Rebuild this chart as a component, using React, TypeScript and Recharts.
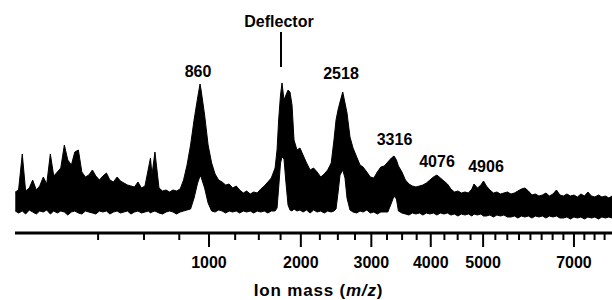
import React from 'react';
import {
  ComposedChart,
  Area,
  XAxis,
  YAxis,
  ReferenceDot,
  ReferenceLine,
  Label,
} from 'recharts';

// ion mass (m/z) of each sample along the trace
const masses = [
  16, 20, 25, 30, 36, 42, 49, 56, 64, 72, 81, 90, 100, 110, 121, 132, 144, 156, 169, 182,
  196, 210, 225, 240, 256, 272, 289, 306, 324, 343, 361, 380, 400, 420, 441, 462, 484, 506, 529, 542,
  552, 572, 600, 625, 650, 676, 702, 729, 757, 784, 812, 841, 870, 900, 921, 930, 961, 992, 1024, 1056,
  1089, 1122, 1156, 1190, 1225, 1261, 1296, 1333, 1369, 1406, 1444, 1482, 1522, 1561, 1601, 1641, 1685, 1708, 1727, 1749,
  1767, 1791, 1815, 1840, 1864, 1889, 1914, 1951, 1989, 2028, 2074, 2120, 2166, 2213, 2262, 2309, 2357, 2406, 2445, 2474,
  2502, 2531, 2570, 2603, 2632, 2676, 2721, 2776, 2826, 2872, 2930, 2984, 3039, 3094, 3150, 3206, 3263, 3322, 3365, 3405,
  3438, 3497, 3556, 3616, 3676, 3737, 3798, 3860, 3922, 3985, 4048, 4112, 4176, 4241, 4306, 4372, 4438, 4505, 4572, 4640,
  4708, 4777, 4818, 4886, 4956, 5008, 5067, 5138, 5210, 5282, 5355, 5428, 5502, 5577, 5651, 5727, 5802, 5879, 5955, 6033,
  6110, 6189, 6267, 6347, 6426, 6507, 6588, 6669, 6751, 6833, 6916, 6999, 7083, 7167, 7252, 7337, 7423, 7509, 7596, 7683,
  7770, 7859, 7937,
];

// upper edge of the noisy signal band (arbitrary intensity)
const upper = [
  41, 43, 79, 42, 45, 53, 43, 47, 56, 49, 79, 57, 61, 65, 88, 73, 68, 81, 83, 61,
  56, 58, 63, 57, 53, 57, 60, 53, 51, 56, 52, 50, 48, 47, 46, 51, 45, 47, 65, 75,
  58, 81, 45, 42, 43, 41, 43, 42, 44, 53, 68, 88, 113, 135, 149, 143, 118, 88, 70, 59,
  53, 51, 48, 49, 45, 47, 43, 40, 42, 39, 41, 40, 44, 47, 51, 55, 65, 83, 113, 138,
  150, 133, 138, 143, 141, 128, 93, 83, 85, 78, 70, 63, 65, 61, 56, 59, 63, 70, 93, 113,
  123, 131, 141, 130, 120, 96, 85, 76, 68, 66, 61, 56, 55, 61, 66, 67, 71, 75, 77, 73,
  67, 61, 53, 49, 47, 46, 47, 48, 50, 53, 56, 58, 55, 52, 49, 44, 41, 42, 40, 41,
  40, 44, 49, 45, 48, 52, 47, 43, 40, 41, 39, 40, 41, 39, 40, 42, 44, 45, 42, 38,
  39, 37, 38, 40, 37, 39, 43, 38, 37, 39, 37, 38, 36, 39, 37, 41, 37, 36, 38, 36,
  37, 35, 37,
];

// lower edge of the noisy signal band
const lower = [
  22, 20, 22, 19, 23, 21, 19, 22, 21, 23, 19, 22, 20, 22, 21, 18, 21, 22, 20, 19,
  22, 21, 20, 19, 22, 21, 22, 19, 21, 22, 20, 21, 22, 19, 21, 22, 20, 21, 22, 20,
  21, 22, 20, 19, 21, 22, 21, 19, 21, 22, 23, 24, 35, 50, 57, 56, 45, 30, 22, 21,
  23, 22, 20, 22, 21, 22, 20, 22, 21, 22, 20, 22, 21, 22, 20, 22, 22, 25, 45, 70,
  76, 74, 50, 28, 23, 22, 24, 22, 23, 21, 23, 20, 23, 21, 22, 20, 22, 21, 22, 24,
  40, 58, 63, 55, 35, 23, 21, 20, 22, 21, 23, 20, 21, 19, 21, 21, 21, 30, 37, 34,
  22, 20, 19, 18, 20, 19, 20, 18, 20, 19, 20, 18, 20, 19, 20, 18, 19, 17, 19, 18,
  19, 17, 19, 18, 19, 17, 17, 18, 16, 18, 17, 18, 16, 16, 17, 15, 17, 16, 17, 15,
  17, 16, 17, 15, 17, 16, 17, 15, 15, 16, 14, 16, 15, 16, 14, 16, 15, 16, 14, 16,
  15, 16, 15,
];

const tickValues = [
  250, 500, 750, 1000, 1250, 1500, 1750, 2000, 2250, 2500, 2750, 3000, 3250, 3500, 3750, 4000,
  4250, 4500, 4750, 5000, 5250, 5500, 5750, 6000, 6250, 6500, 6750, 7000, 7250, 7500, 7750,
];
const labeledTicks = [1000, 2000, 3000, 4000, 5000, 7000];

// peak annotations: text, m/z position and height of the text baseline
const peakText = ['860', 'Deflector', '2518', '3316', '4076', '4906'];
const peakMass = [904, 1731, 2545, 3373, 4114, 5059];
const peakLevel = [156, 206, 154, 88, 66, 61];

const deflectorMarkMass = 1755;
const deflectorMarkRange = [166, 201];

const data = masses.map((m, i) => ({ mass: m, band: [lower[i], upper[i]] }));

const FONT = '"Liberation Sans", Arial, Helvetica, sans-serif';

const AxisTick = (props: any) => {
  const { x, y, payload } = props;
  const major = labeledTicks.includes(payload.value);
  return (
    <g>
      <line x1={x} x2={x} y1={y} y2={y + (major ? 14 : 7)} stroke="#000" strokeWidth={2} />
      {major && (
        <text x={x} y={y + 35} textAnchor="middle" fontSize={16} fontWeight="bold" fontFamily={FONT} fill="#000">
          {payload.value}
        </text>
      )}
    </g>
  );
};

const AxisTitle = (props: any) => {
  const vb = props.viewBox || { x: 15, y: 233, width: 597 };
  return (
    <text
      x={vb.x + vb.width / 2 + 5}
      y={vb.y + 63}
      textAnchor="middle"
      fontSize={17}
      fontWeight="bold"
      letterSpacing={0.8}
      fontFamily={FONT}
      fill="#000"
    >
      Ion mass (<tspan fontStyle="italic">m/z</tspan>)
    </text>
  );
};

export default function App() {
  return (
    <div style={{ position: 'absolute', left: 0, top: 0, width: 612, height: 300, background: '#fff' }}>
      <ComposedChart width={612} height={300} data={data} margin={{ top: 0, right: 0, bottom: 0, left: 15 }}>
        <XAxis
          dataKey="mass"
          type="number"
          scale="sqrt"
          domain={[15.7, 7937]}
          allowDataOverflow
          ticks={tickValues}
          interval={0}
          height={67}
          tickSize={0}
          tickMargin={0}
          tickLine={false}
          tick={AxisTick}
          axisLine={{ stroke: '#000', strokeWidth: 3 }}
        >
          <Label content={AxisTitle} />
        </XAxis>
        <YAxis hide type="number" domain={[0, 233]} allowDataOverflow />
        <Area
          type="linear"
          dataKey="band"
          stroke="#000"
          strokeWidth={1}
          fill="#000"
          fillOpacity={1}
          dot={false}
          activeDot={false}
          isAnimationActive={false}
        />
        <ReferenceLine
          segment={[
            { x: deflectorMarkMass, y: deflectorMarkRange[0] },
            { x: deflectorMarkMass, y: deflectorMarkRange[1] },
          ]}
          stroke="#000"
          strokeWidth={2}
          ifOverflow="visible"
        />
        {peakText.map((t, i) => (
          <ReferenceDot
            key={t}
            x={peakMass[i]}
            y={peakLevel[i]}
            r={0}
            ifOverflow="visible"
            shape={(p: any) => (
              <text x={p.cx} y={p.cy} textAnchor="middle" fontSize={16} fontWeight="bold" fontFamily={FONT} fill="#000">
                {t}
              </text>
            )}
          />
        ))}
      </ComposedChart>
    </div>
  );
}
